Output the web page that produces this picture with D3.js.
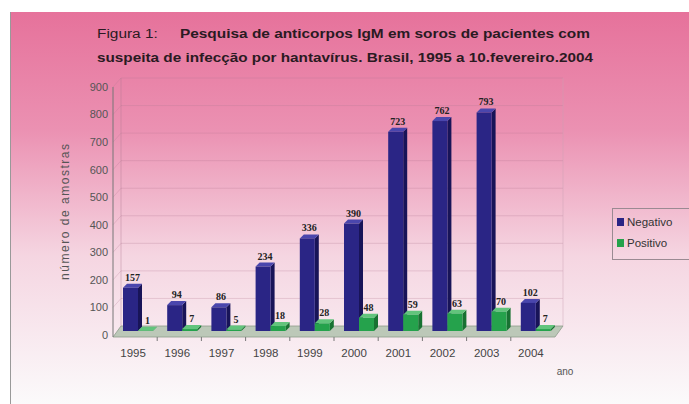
<!DOCTYPE html>
<html>
<head>
<meta charset="utf-8">
<script src="https://cdn.jsdelivr.net/npm/d3@7"></script>
<style>
  body { margin: 0; background: #fff; }
  svg { display: block; }
  .axis-text { font-family: "Liberation Sans", Arial, sans-serif; font-size: 11px; fill: #555; }
  .val-text { font-family: "Liberation Serif", serif; font-size: 10px; font-weight: bold; fill: #222; }
</style>
</head>
<body>
<div class="chart-container"></div>
<script>
var width = 689;
var height = 404;

// data
var years = ["1995", "1996", "1997", "1998", "1999", "2000", "2001", "2002", "2003", "2004"];
var negativo = [157, 94, 86, 234, 336, 390, 723, 762, 793, 102];
var positivo = [1, 7, 5, 18, 28, 48, 59, 63, 70, 7];
var seriesNames = ["Negativo", "Positivo"];
var yTicks = [0, 100, 200, 300, 400, 500, 600, 700, 800, 900];

var colors = {
  Negativo: { front: "#2a2585", side: "#181458", top: "#4a46ad" },
  Positivo: { front: "#25a24c", side: "#187232", top: "#62c47c" }
};

// 3d offsets: whole depth of the plot, and offset/depth of the bars
var depth = { dx: 8, dy: -9 };
var barOff = { dx: 3, dy: -4 };
var barDepth = { dx: 4, dy: -4 };

var svg = d3.select(".chart-container")
  .append("svg")
  .attr("width", width)
  .attr("height", height);

var defs = svg.append("defs");
var grad = defs.append("linearGradient")
  .attr("id", "bg")
  .attr("x1", 0).attr("y1", 0).attr("x2", 0).attr("y2", 1);
grad.append("stop").attr("offset", "0%").attr("stop-color", "#e6729b");
grad.append("stop").attr("offset", "30%").attr("stop-color", "#eb91b2");
grad.append("stop").attr("offset", "62%").attr("stop-color", "#f5d5e1");
grad.append("stop").attr("offset", "100%").attr("stop-color", "#fbfafb");

// panel
svg.append("rect")
  .attr("x", 10).attr("y", 12)
  .attr("width", width - 10).attr("height", height - 12)
  .attr("fill", "url(#bg)");
svg.append("line")
  .attr("x1", 10.5).attr("x2", 10.5).attr("y1", 12).attr("y2", height)
  .attr("stroke", "#999");

// title
var title = svg.append("text")
  .attr("x", 97).attr("y", 38)
  .attr("font-family", "Liberation Sans, Arial, sans-serif")
  .attr("font-size", 12.5)
  .attr("fill", "#2a1a22")
  .attr("textLength", 493)
  .attr("lengthAdjust", "spacingAndGlyphs");
title.append("tspan").attr("font-weight", "normal").text("Figura 1:");
title.append("tspan").attr("font-weight", "bold").attr("dx", 18)
  .text("Pesquisa de anticorpos IgM em soros de pacientes com");

svg.append("text")
  .attr("x", 97).attr("y", 62)
  .attr("font-family", "Liberation Sans, Arial, sans-serif")
  .attr("font-size", 12.5)
  .attr("font-weight", "bold")
  .attr("fill", "#2a1a22")
  .attr("textLength", 496)
  .attr("lengthAdjust", "spacingAndGlyphs")
  .text("suspeita de infecção por hantavírus. Brasil, 1995 a 10.fevereiro.2004");

// scales
var xScale = d3.scaleBand()
  .domain(years)
  .range([113, 555]);
var xInner = d3.scaleBand()
  .domain(seriesNames)
  .range([7, 37]);
var yScale = d3.scaleLinear()
  .domain([0, 900])
  .range([335, 87]);

var x0 = xScale.range()[0], x1 = xScale.range()[1];
var y0 = yScale(0);

// side wall and back wall gridlines
var grid = svg.append("g").attr("class", "grid");
yTicks.slice(1).forEach(function(v) {
  var y = yScale(v);
  grid.append("polyline")
    .attr("points", [[x0, y], [x0 + depth.dx, y + depth.dy], [x1 + depth.dx, y + depth.dy]].join(" "))
    .attr("fill", "none")
    .attr("stroke", "#b27890")
    .attr("stroke-opacity", 0.35)
    .attr("stroke-width", 0.8);
});
grid.append("line")
  .attr("x1", x0 + depth.dx).attr("x2", x0 + depth.dx)
  .attr("y1", y0 + depth.dy).attr("y2", yScale(900) + depth.dy)
  .attr("stroke", "#b27890").attr("stroke-opacity", 0.4);
grid.append("line")
  .attr("x1", x1 + depth.dx).attr("x2", x1 + depth.dx)
  .attr("y1", y0 + depth.dy).attr("y2", yScale(900) + depth.dy)
  .attr("stroke", "#c9a0b2").attr("stroke-opacity", 0.45);

// floor
svg.append("polygon")
  .attr("points", [[x0, y0 + 2], [x1, y0 + 2], [x1 + depth.dx, y0 + depth.dy], [x0 + depth.dx, y0 + depth.dy]].join(" "))
  .attr("fill", "#bcc8b8")
  .attr("stroke", "#8d9c8c")
  .attr("stroke-width", 0.8);

// bars
var rows = [];
years.forEach(function(yr, i) {
  rows.push({ year: yr, series: "Negativo", value: negativo[i] });
  rows.push({ year: yr, series: "Positivo", value: positivo[i] });
});

var bars = svg.append("g").attr("class", "bars")
  .selectAll("g")
  .data(rows)
  .enter()
  .append("g");

bars.each(function(d) {
  var g = d3.select(this);
  var c = colors[d.series];
  var bx = xScale(d.year) + xInner(d.series) + barOff.dx;
  var bw = xInner.bandwidth();
  var top = yScale(d.value) + barOff.dy;
  var bot = y0 + barOff.dy;

  // side face
  g.append("polygon")
    .attr("points", [[bx + bw, top], [bx + bw + barDepth.dx, top + barDepth.dy],
      [bx + bw + barDepth.dx, bot + barDepth.dy], [bx + bw, bot]].join(" "))
    .attr("fill", c.side);
  // top face
  g.append("polygon")
    .attr("points", [[bx, top], [bx + barDepth.dx, top + barDepth.dy],
      [bx + bw + barDepth.dx, top + barDepth.dy], [bx + bw, top]].join(" "))
    .attr("fill", c.top);
  // front face
  g.append("rect")
    .attr("x", bx)
    .attr("y", top)
    .attr("width", bw)
    .attr("height", Math.max(0, bot - top))
    .attr("fill", c.front);

  g.append("text")
    .attr("class", "val-text")
    .attr("x", bx + bw / 2 + 2)
    .attr("y", top - 7)
    .attr("text-anchor", "middle")
    .text(d.value);
});

// y axis
svg.append("line")
  .attr("x1", x0).attr("x2", x0)
  .attr("y1", yScale(900)).attr("y2", y0 + 2)
  .attr("stroke", "#777");

svg.append("g")
  .selectAll("text")
  .data(yTicks)
  .enter()
  .append("text")
  .attr("class", "axis-text")
  .attr("x", x0 - 5)
  .attr("y", function(d) { return yScale(d); })
  .attr("dy", "0.35em")
  .attr("text-anchor", "end")
  .text(function(d) { return d; });

svg.append("text")
  .attr("class", "axis-text")
  .attr("transform", "rotate(-90)")
  .attr("x", -212)
  .attr("y", 69)
  .attr("text-anchor", "middle")
  .attr("textLength", 136)
  .style("font-size", "12px")
  .text("número de amostras");

// x axis ticks and labels
svg.append("g")
  .selectAll("line")
  .data(years.slice(1))
  .enter()
  .append("line")
  .attr("x1", function(d) { return xScale(d); })
  .attr("x2", function(d) { return xScale(d); })
  .attr("y1", y0 + 2)
  .attr("y2", y0 + 6)
  .attr("stroke", "#777");

svg.append("g")
  .selectAll("text")
  .data(years)
  .enter()
  .append("text")
  .attr("class", "axis-text")
  .attr("x", function(d) { return xScale(d) + xScale.bandwidth() / 2 - 2; })
  .attr("y", 357)
  .attr("text-anchor", "middle")
  .style("fill", "#444")
  .style("font-size", "11.5px")
  .text(function(d) { return d; });

svg.append("text")
  .attr("class", "axis-text")
  .attr("x", 565)
  .attr("y", 375)
  .attr("text-anchor", "middle")
  .style("font-size", "10px")
  .text("ano");

// legend
var legend = svg.append("g").attr("class", "legend");
legend.append("rect")
  .attr("x", 612.5).attr("y", 208.5)
  .attr("width", 90).attr("height", 51)
  .attr("fill", "none")
  .attr("stroke", "#9a8a92");
seriesNames.forEach(function(s, i) {
  var ly = 222 + i * 21;
  legend.append("rect")
    .attr("x", 617).attr("y", ly - 4)
    .attr("width", 7).attr("height", 8)
    .attr("fill", colors[s].front);
  legend.append("text")
    .attr("class", "axis-text")
    .attr("x", 627).attr("y", ly)
    .attr("dy", "0.35em")
    .style("font-size", "11.5px")
    .style("fill", "#333")
    .text(s);
});
</script>
</body>
</html>
